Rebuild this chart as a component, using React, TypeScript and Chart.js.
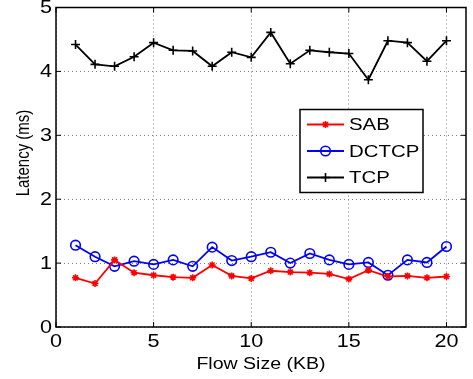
import React, { useEffect, useRef } from 'react';
import { Chart, registerables } from 'chart.js';
import { drawPoint } from 'chart.js/helpers';

Chart.register(...registerables);

// Flow sizes (KB) and measured latencies (ms)
const flowSizes = [1, 2, 3, 4, 5, 6, 7, 8, 9, 10, 11, 12, 13, 14, 15, 16, 17, 18, 19, 20];
const sabLatency = [0.77, 0.68, 1.05, 0.85, 0.81, 0.78, 0.77, 0.97, 0.8, 0.76, 0.88, 0.86, 0.85, 0.83, 0.75, 0.89, 0.79, 0.8, 0.77, 0.79];
const dctcpLatency = [1.28, 1.1, 0.95, 1.03, 0.98, 1.05, 0.95, 1.25, 1.04, 1.1, 1.17, 1.0, 1.15, 1.05, 0.98, 1.01, 0.81, 1.05, 1.01, 1.26];
const tcpLatency = [4.42, 4.11, 4.08, 4.23, 4.45, 4.33, 4.32, 4.08, 4.3, 4.22, 4.61, 4.12, 4.33, 4.3, 4.28, 3.87, 4.48, 4.45, 4.16, 4.48];

const xTicks = [0, 5, 10, 15, 20];
const yTicks = [0, 1, 2, 3, 4, 5];
const xTitle = 'Flow Size (KB)';
const yTitle = 'Latency (ms)';

const FONT = "'Liberation Sans', Arial, Helvetica, sans-serif";
// Text in this figure is rendered slightly wide
const SX = 1.2;

const toPoints = (ys: number[]) => flowSizes.map((x, i) => ({ x, y: ys[i] }));

function wideText(
  ctx: CanvasRenderingContext2D,
  text: string,
  x: number,
  y: number,
  size: number,
  align: CanvasTextAlign,
  rotate = false,
) {
  ctx.save();
  ctx.translate(x, y);
  ctx.scale(SX, 1);
  if (rotate) ctx.rotate(-Math.PI / 2);
  ctx.font = `${size}px ${FONT}`;
  ctx.fillStyle = '#000';
  ctx.textAlign = align;
  ctx.textBaseline = 'middle';
  ctx.fillText(text, 0, 0);
  ctx.restore();
}

// Axes frame with inward tick marks on all four sides, tick labels and titles
const framePlugin = {
  id: 'frame',
  afterDatasetsDraw(chart: any) {
    const { ctx, chartArea, scales } = chart;
    const { left, right, top, bottom } = chartArea;
    const tl = 5;
    ctx.save();
    ctx.strokeStyle = '#000';
    ctx.lineWidth = 1;
    ctx.beginPath();
    xTicks.forEach((v) => {
      const px = scales.x.getPixelForValue(v);
      ctx.moveTo(px, bottom);
      ctx.lineTo(px, bottom - tl);
      ctx.moveTo(px, top);
      ctx.lineTo(px, top + tl);
    });
    yTicks.forEach((v) => {
      const py = scales.y.getPixelForValue(v);
      ctx.moveTo(left, py);
      ctx.lineTo(left + tl, py);
      ctx.moveTo(right, py);
      ctx.lineTo(right - tl, py);
    });
    ctx.stroke();
    ctx.lineWidth = 1.5;
    ctx.strokeRect(left, top, right - left, bottom - top);
    ctx.restore();

    xTicks.forEach((v) => {
      wideText(ctx, String(v), scales.x.getPixelForValue(v), bottom + 15.5, 18, 'center');
    });
    yTicks.forEach((v) => {
      wideText(ctx, String(v), left - 4, scales.y.getPixelForValue(v) + 1, 18, 'right');
    });
    wideText(ctx, xTitle, (left + right) / 2, 365, 16.3, 'center');
    wideText(ctx, yTitle, 24.5, 153, 15, 'center', true);
  },
};

// Boxed legend inside the plot
const legendPlugin = {
  id: 'boxLegend',
  afterDraw(chart: any) {
    const { ctx } = chart;
    const bx = 300, by = 109.5, bw = 123, bh = 83;
    ctx.save();
    ctx.fillStyle = '#fff';
    ctx.fillRect(bx, by, bw, bh);
    ctx.strokeStyle = '#000';
    ctx.lineWidth = 1.5;
    ctx.strokeRect(bx, by, bw, bh);

    const rows = [124.5, 151, 177.5];
    chart.data.datasets.forEach((ds: any, i: number) => {
      const y = rows[i];
      ctx.strokeStyle = ds.borderColor;
      ctx.lineWidth = ds.borderWidth;
      ctx.beginPath();
      ctx.moveTo(307, y);
      ctx.lineTo(344, y);
      ctx.stroke();
      ctx.fillStyle = ds.pointBackgroundColor;
      ctx.lineWidth = ds.pointBorderWidth;
      drawPoint(ctx, { pointStyle: ds.pointStyle, radius: ds.pointRadius, rotation: 0, borderWidth: ds.pointBorderWidth }, 325.5, y);
      wideText(ctx, ds.label, 349, y + 1, 17, 'left');
    });
    ctx.restore();
  },
};

export default function App() {
  const canvasRef = useRef<HTMLCanvasElement | null>(null);

  useEffect(() => {
    if (!canvasRef.current) return;
    const chart = new Chart(canvasRef.current, {
      type: 'line',
      data: {
        datasets: [
          {
            label: 'SAB',
            data: toPoints(sabLatency),
            borderColor: '#ff0000',
            backgroundColor: '#ff0000',
            borderWidth: 1.8,
            pointStyle: 'star',
            pointRadius: 3.5,
            pointBorderWidth: 1.6,
            pointBorderColor: '#ff0000',
            pointBackgroundColor: '#ff0000',
          },
          {
            label: 'DCTCP',
            data: toPoints(dctcpLatency),
            borderColor: '#0000ff',
            backgroundColor: 'rgba(0,0,0,0)',
            borderWidth: 1.8,
            pointStyle: 'circle',
            pointRadius: 4.8,
            pointBorderWidth: 1.6,
            pointBorderColor: '#0000ff',
            pointBackgroundColor: 'rgba(0,0,0,0)',
          },
          {
            label: 'TCP',
            data: toPoints(tcpLatency),
            borderColor: '#000000',
            backgroundColor: '#000000',
            borderWidth: 1.8,
            pointStyle: 'cross',
            pointRadius: 4.5,
            pointBorderWidth: 1.6,
            pointBorderColor: '#000000',
            pointBackgroundColor: '#000000',
          },
        ],
      },
      options: {
        responsive: false,
        animation: false,
        devicePixelRatio: 1,
        layout: { padding: { top: 7.5, right: 7, left: 0, bottom: 0 } },
        plugins: { legend: { display: false }, tooltip: { enabled: false } },
        elements: { line: { tension: 0 } },
        scales: {
          x: {
            type: 'linear',
            min: 0,
            max: 21,
            afterBuildTicks: (s: any) => {
              s.ticks = xTicks.map((v) => ({ value: v }));
            },
            afterFit: (s: any) => {
              s.height = 52;
            },
            grid: { color: '#808080', lineWidth: 1, drawTicks: false },
            border: { display: false, dash: [1, 3] },
            ticks: { display: false },
          },
          y: {
            type: 'linear',
            min: 0,
            max: 5,
            afterBuildTicks: (s: any) => {
              s.ticks = yTicks.map((v) => ({ value: v }));
            },
            afterFit: (s: any) => {
              s.width = 56;
            },
            grid: { color: '#808080', lineWidth: 1, drawTicks: false },
            border: { display: false, dash: [1, 3] },
            ticks: { display: false },
          },
        },
      },
      plugins: [framePlugin, legendPlugin],
    });
    return () => chart.destroy();
  }, []);

  return (
    <div style={{ position: 'fixed', left: 0, top: 0, width: 473, height: 379, background: '#fff' }}>
      <canvas ref={canvasRef} width={473} height={379} />
    </div>
  );
}
